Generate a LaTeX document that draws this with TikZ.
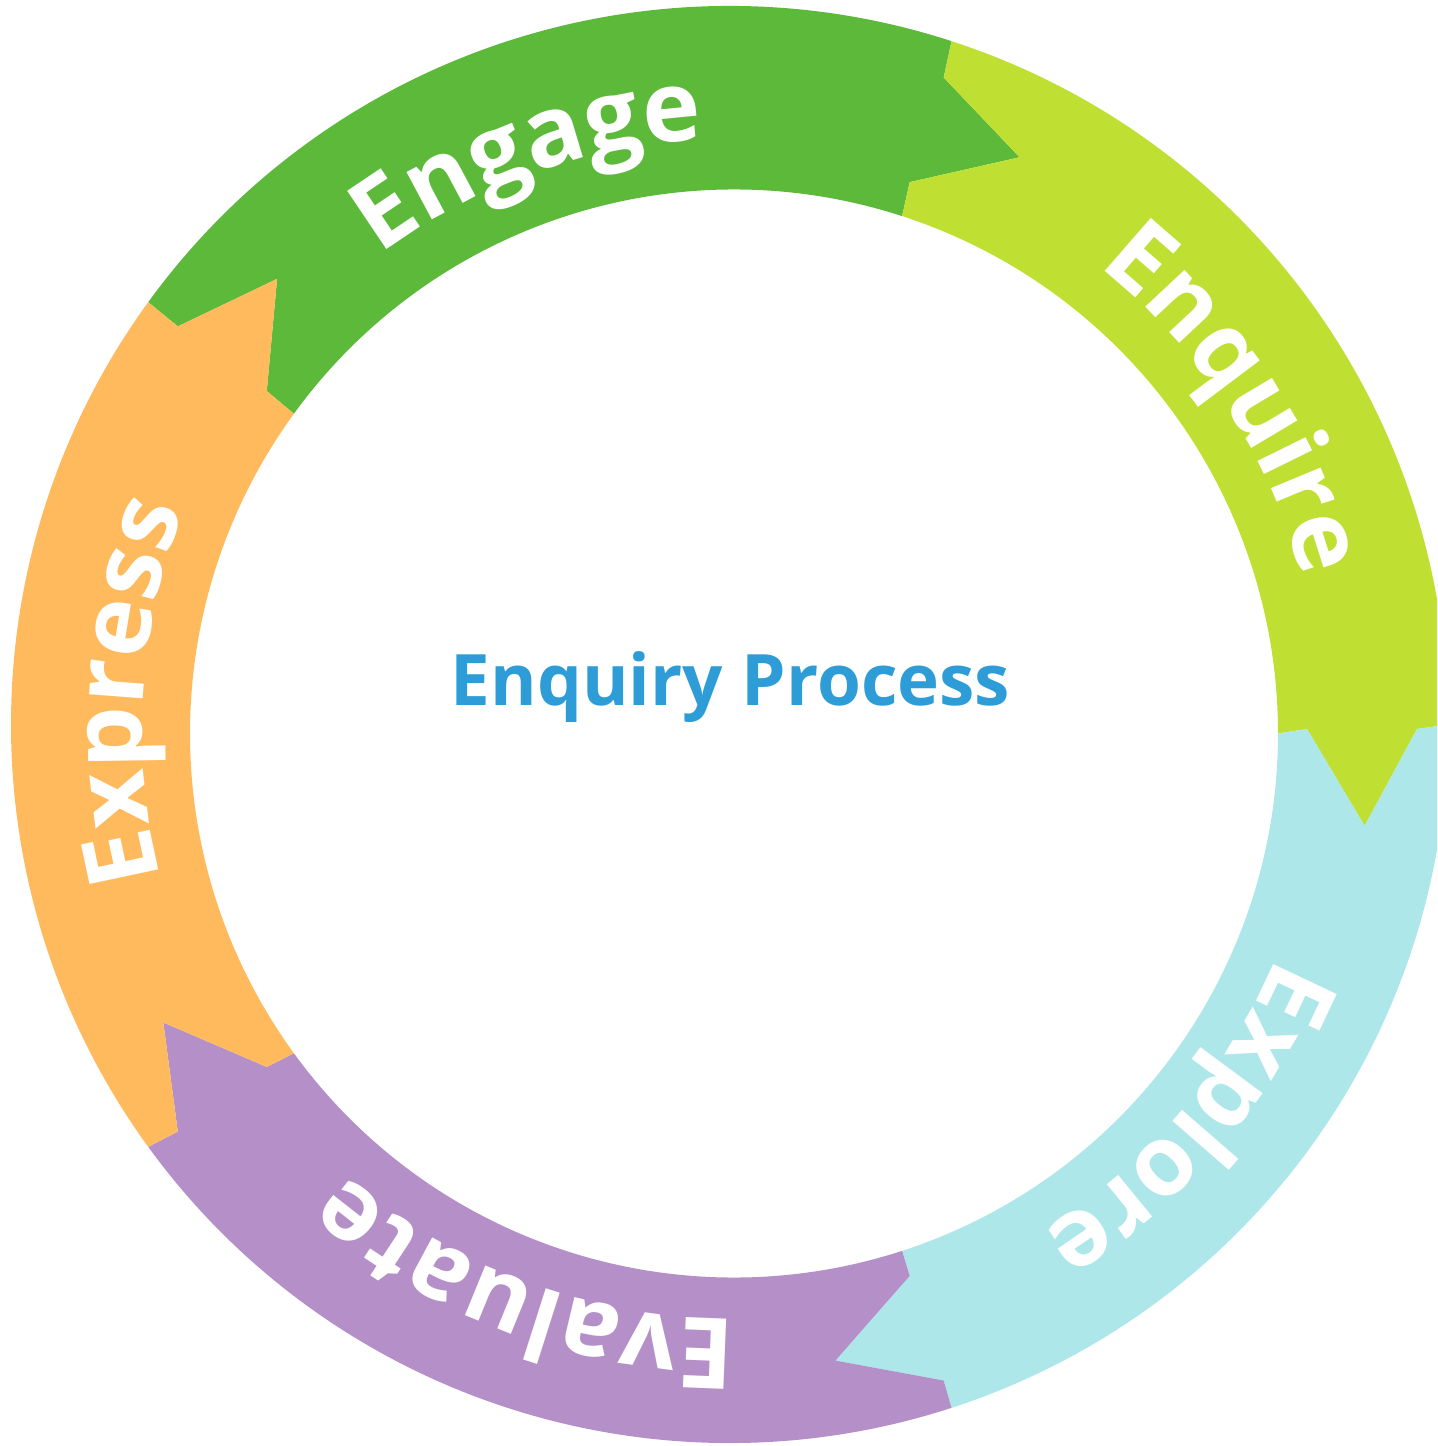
\documentclass[tikz,border=0pt]{standalone}
\usepackage{fontspec}
\setmainfont{Open Sans}
\usetikzlibrary{calc,math}
\usetikzlibrary{decorations.text}

\definecolor{engagegreen}{HTML}{5DB93A}
\definecolor{enquirelime}{HTML}{C0DF33}
\definecolor{explorecyan}{HTML}{ADE7EA}
\definecolor{evaluatelilac}{HTML}{B48FC8}
\definecolor{expressorange}{HTML}{FFBA5E}
\definecolor{titleblue}{HTML}{2E9DD7}

\newcommand{\segfont}{\fontsize{28}{28}\selectfont\bfseries\color{white}}

\tikzset{
    seglabel/.style={decorate,
        decoration={text along path, text align=center, text={|\segfont|#1}}},
    title/.style={anchor=base, text=titleblue, inner sep=0pt,
        font=\fontsize{20.2}{24}\selectfont\bfseries},
}

\begin{document}
\begin{tikzpicture}[
    scale=1.00,
  ]

  \tikzmath{
    \outr     = 7.185; % radius of the outer rim
    \innr     = 5.44;  % radius of the inner rim
    \notchout = 6.85;  % outer corner of an arrow head
    \notchin  = 5.75;  % inner corner of an arrow head
    \tipr     = 6.40;  % radius of the arrow tips
    \tipang   = 8.7;   % how far a tip reaches into the next segment
    \textr    = 5.90;  % baseline of the segment labels
  }

  \useasboundingbox (-7.32,-7.17) rectangle (7.05,7.29);
  \clip (-7.32,-7.17) rectangle (7.05,7.29);

  \coordinate (oc) at (-0.025, 0.045); % centre of the outer rim
  \coordinate (ic) at ( 0.020,-0.045); % centre of the inner rim

  % --------------
  % Ring segments
  % --------------

  % Engage
  \fill[engagegreen] ($ (oc) + (144:\outr) $) arc (144: 72: \outr)
    -- (72:\notchout) -- ({72-\tipang}:\tipr) -- (72:\notchin)
    -- ($ (ic) + (72:\innr) $) arc (72: 144: \innr)
    -- (144:\notchin) -- ({144-\tipang}:\tipr) -- (144:\notchout) -- cycle;

  % Enquire
  \fill[enquirelime] ($ (oc) + (72:\outr) $) arc (72: 0: \outr)
    -- (0:\notchout) -- ({0-\tipang}:\tipr) -- (0:\notchin)
    -- ($ (ic) + (0:\innr) $) arc (0: 72: \innr)
    -- (72:\notchin) -- ({72-\tipang}:\tipr) -- (72:\notchout) -- cycle;

  % Explore
  \fill[explorecyan] ($ (oc) + (0:\outr) $) arc (0: -72: \outr)
    -- (-72:\notchout) -- ({-72-\tipang}:\tipr) -- (-72:\notchin)
    -- ($ (ic) + (-72:\innr) $) arc (-72: 0: \innr)
    -- (0:\notchin) -- ({0-\tipang}:\tipr) -- (0:\notchout) -- cycle;

  % Evaluate
  \fill[evaluatelilac] ($ (oc) + (-72:\outr) $) arc (-72: -144: \outr)
    -- (-144:\notchout) -- ({-144-\tipang}:\tipr) -- (-144:\notchin)
    -- ($ (ic) + (-144:\innr) $) arc (-144: -72: \innr)
    -- (-72:\notchin) -- ({-72-\tipang}:\tipr) -- (-72:\notchout) -- cycle;

  % Express
  \fill[expressorange] ($ (oc) + (216:\outr) $) arc (216: 144: \outr)
    -- (144:\notchout) -- ({144-\tipang}:\tipr) -- (144:\notchin)
    -- ($ (ic) + (144:\innr) $) arc (144: 216: \innr)
    -- (216:\notchin) -- ({216-\tipang}:\tipr) -- (216:\notchout) -- cycle;

  % --------------
  % Segment labels
  % --------------

  \path[seglabel=Engage]   (139.7:\textr) arc (139.7: 79.7: \textr);
  \path[seglabel=Enquire]  (63.2:\textr)  arc (63.2: 3.2: \textr);
  \path[seglabel=Explore]  (-10.5:\textr) arc (-10.5: -70.5: \textr);
  \path[seglabel=Evaluate] (-80.3:\textr) arc (-80.3: -140.3: \textr);
  \path[seglabel=Express]  (206.5:\textr) arc (206.5: 146.5: \textr);

  % Title in the middle
  \node[title] (title) at (-0.015, 0.24) {Enquiry Process};

\end{tikzpicture}
\end{document}
